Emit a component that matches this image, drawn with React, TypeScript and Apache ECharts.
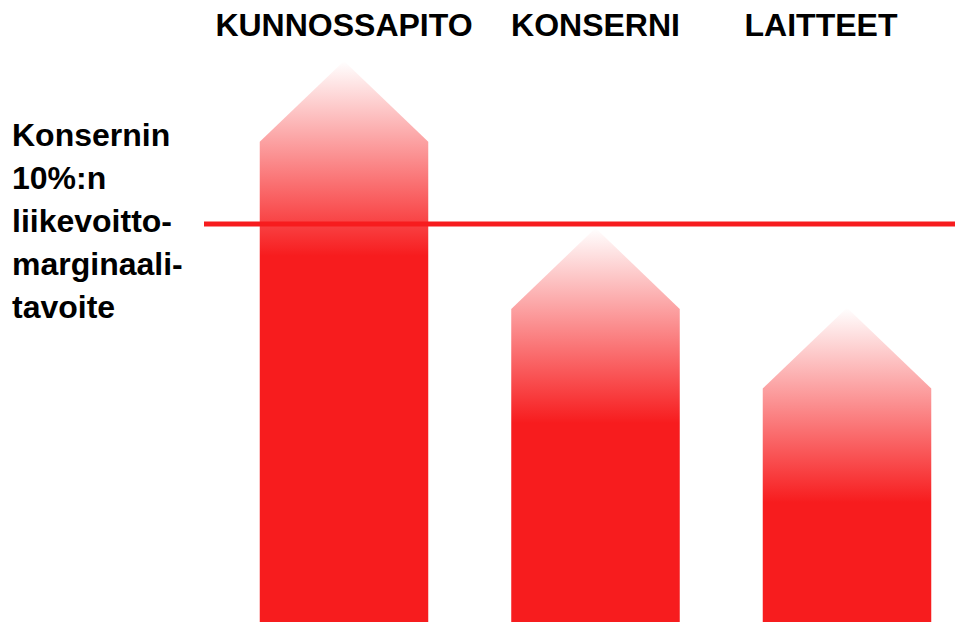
import React, { useEffect, useRef } from "react";
import * as echarts from "echarts";

const categories = ["KUNNOSSAPITO", "KONSERNI", "LAITTEET"];
const arrowValues = [14.1, 9.9, 7.9];
const targetValue = 10;
const noteLines = ["Konsernin", "10%:n", "liikevoitto-", "marginaali-", "tavoite"];

const RED = "rgb(247,28,30)";
const FONT = "'Liberation Sans', Arial, sans-serif";

export default function App() {
  const ref = useRef<HTMLDivElement>(null);
  useEffect(() => {
    if (!ref.current) return;
    const chart = echarts.init(ref.current, null, { renderer: "svg" });
    chart.setOption({
      animation: false,
      backgroundColor: "#ffffff",
      grid: { left: 344, top: 45, width: 503, bottom: 0 },
      xAxis: {
        type: "category",
        data: categories,
        position: "top",
        boundaryGap: false,
        axisLine: { show: false },
        axisTick: { show: false },
        axisLabel: {
          margin: 4,
          formatter: (v: string, i: number) => (i === 2 ? `{s|${v}}` : `{n|${v}}`),
          rich: {
            n: { fontFamily: FONT, fontWeight: "bold", fontSize: 32, color: "#000" },
            s: { fontFamily: FONT, fontWeight: "bold", fontSize: 32, color: "#000", padding: [0, 52, 0, 0] },
          },
        },
      },
      yAxis: {
        type: "value",
        min: 0,
        max: 14.5,
        show: false,
        splitLine: { show: false },
      },
      graphic: [
        {
          type: "text",
          left: 12,
          top: 113,
          style: {
            text: noteLines.join("\n"),
            fontFamily: FONT,
            fontWeight: "bold",
            fontSize: 32,
            lineHeight: 43,
            fill: "#000",
            verticalAlign: "top",
          },
        },
      ],
      series: [
        {
          type: "custom",
          data: arrowValues.map((v, i) => [i, v]),
          z: 2,
          clip: false,
          renderItem: (params: any, api: any) => {
            const idx = api.value(0);
            const v = api.value(1);
            const tip = api.coord([idx, v]);
            const base = api.coord([idx, 0]);
            const w = api.size([1, 0])[0] * 0.67;
            const half = w / 2;
            const head = half * 0.96;
            const cx = tip[0];
            const ty = tip[1];
            const by = base[1] + 2;
            return {
              type: "polygon",
              shape: {
                points: [
                  [cx - half, by],
                  [cx - half, ty + head],
                  [cx, ty],
                  [cx + half, ty + head],
                  [cx + half, by],
                ],
              },
              style: {
                fill: new echarts.graphic.LinearGradient(
                  0,
                  ty,
                  0,
                  ty + 195,
                  [
                    { offset: 0, color: "rgba(255,255,255,1)" },
                    { offset: 1, color: RED },
                  ],
                  true
                ),
              },
            };
          },
        },
        {
          type: "custom",
          data: [[0, targetValue]],
          z: 3,
          clip: false,
          renderItem: (params: any, api: any) => {
            const p = api.coord([api.value(0), api.value(1)]);
            return {
              type: "line",
              shape: { x1: 204, y1: p[1], x2: 955, y2: p[1] },
              style: { stroke: RED, lineWidth: 5 },
            };
          },
        },
      ],
    });
    return () => chart.dispose();
  }, []);
  return (
    <div
      ref={ref}
      style={{ position: "absolute", left: 0, top: 0, width: 955, height: 622 }}
    />
  );
}
